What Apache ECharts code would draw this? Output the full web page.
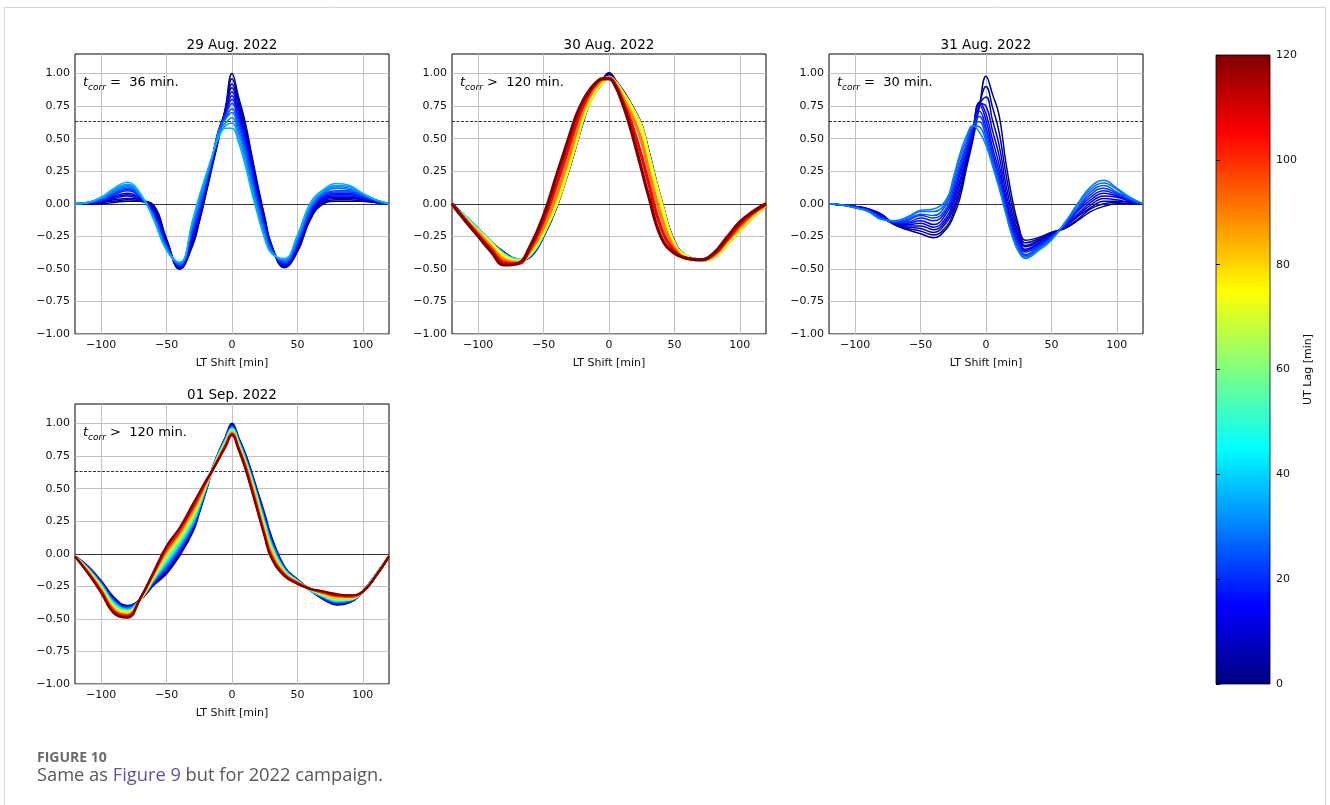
<!DOCTYPE html>
<html>
<head>
<meta charset="utf-8">
<script src="https://cdn.jsdelivr.net/npm/echarts@6/dist/echarts.min.js"></script>
<style>
  html, body { margin: 0; padding: 0; background: #fff; }
  #chart { width: 1330px; height: 805px; }
</style>
</head>
<body>
<div id="chart"></div>
<script>
// LT shift sampling (min); finer steps around the correlation peak
const LT_SHIFT = [-120,-110,-100,-90,-80,-70,-60,-50,-40,-30,-25,-20,-15,-10,-5,0,5,10,15,20,25,30,40,50,60,70,80,90,100,110,120];
const LT_TICKS = [-100, -50, 0, 50, 100];
const CORR_TICKS = [-1, -0.75, -0.5, -0.25, 0, 0.25, 0.5, 0.75, 1];
const LAG_TICKS = [0, 20, 40, 60, 80, 100, 120];
const LAG_MAX = 120;
const CORR_THRESHOLD = 0.632;

const PANEL_TITLES = ['29 Aug. 2022', '30 Aug. 2022', '31 Aug. 2022', '01 Sep. 2022'];
const TCORR_TEXT = [' =  36 min.', ' >  120 min.', ' =  30 min.', ' >  120 min.'];

// Each table: one row per LT_SHIFT value, one column per UT lag
const LAGS_AUG29 = [0,3,6,9,12,15,18,21,24,27,30,33,36];
const CORR_AUG29 = [
  [0,0,0,0,0,0,0,0,0,0,0,0,0],
  [0,0,0,0,0,0.01,0.01,0.01,0.01,0.01,0.01,0.01,0.01],
  [0,0.01,0.01,0.01,0.02,0.02,0.02,0.03,0.03,0.04,0.04,0.05,0.05],
  [0.01,0.02,0.03,0.04,0.05,0.06,0.07,0.08,0.08,0.09,0.10,0.11,0.12],
  [0.02,0.03,0.04,0.06,0.07,0.08,0.10,0.11,0.12,0.13,0.14,0.15,0.165],
  [0.02,0.02,0.03,0.03,0.04,0.04,0.05,0.05,0.06,0.06,0.07,0.07,0.08],
  [-0.01,-0.02,-0.03,-0.04,-0.05,-0.06,-0.07,-0.08,-0.09,-0.10,-0.10,-0.11,-0.12],
  [-0.27,-0.28,-0.28,-0.29,-0.30,-0.31,-0.32,-0.32,-0.33,-0.34,-0.35,-0.35,-0.36],
  [-0.50,-0.50,-0.50,-0.49,-0.49,-0.48,-0.48,-0.47,-0.47,-0.46,-0.46,-0.45,-0.45],
  [-0.32,-0.30,-0.29,-0.27,-0.25,-0.24,-0.22,-0.20,-0.19,-0.17,-0.15,-0.14,-0.12],
  [-0.14,-0.13,-0.11,-0.10,-0.08,-0.07,-0.05,-0.04,-0.02,-0.01,0.02,0.04,0.06],
  [0.07,0.08,0.09,0.10,0.12,0.13,0.14,0.15,0.16,0.17,0.19,0.20,0.22],
  [0.29,0.30,0.31,0.32,0.33,0.34,0.35,0.35,0.36,0.36,0.37,0.37,0.37],
  [0.50,0.52,0.53,0.55,0.56,0.57,0.57,0.57,0.57,0.56,0.55,0.53,0.51],
  [0.74,0.73,0.72,0.72,0.71,0.70,0.69,0.68,0.66,0.65,0.62,0.60,0.58],
  [1.00,0.96,0.92,0.89,0.86,0.83,0.80,0.77,0.73,0.70,0.66,0.62,0.58],
  [0.82,0.79,0.77,0.74,0.72,0.69,0.66,0.63,0.60,0.57,0.54,0.50,0.47],
  [0.63,0.61,0.58,0.56,0.53,0.51,0.48,0.45,0.43,0.40,0.37,0.34,0.30],
  [0.38,0.36,0.34,0.32,0.30,0.28,0.25,0.23,0.20,0.18,0.15,0.12,0.09],
  [0.13,0.11,0.10,0.08,0.06,0.04,0.03,0.01,-0.01,-0.03,-0.05,-0.07,-0.10],
  [-0.10,-0.11,-0.12,-0.13,-0.15,-0.16,-0.17,-0.19,-0.20,-0.22,-0.23,-0.25,-0.27],
  [-0.31,-0.31,-0.32,-0.32,-0.33,-0.33,-0.34,-0.35,-0.35,-0.36,-0.37,-0.37,-0.38],
  [-0.49,-0.49,-0.48,-0.48,-0.47,-0.47,-0.46,-0.45,-0.45,-0.44,-0.43,-0.43,-0.42],
  [-0.37,-0.36,-0.35,-0.34,-0.33,-0.32,-0.31,-0.30,-0.29,-0.28,-0.27,-0.25,-0.24],
  [-0.12,-0.11,-0.10,-0.09,-0.08,-0.07,-0.06,-0.05,-0.04,-0.03,-0.02,-0.01,0.01],
  [0.00,0.01,0.02,0.03,0.04,0.05,0.06,0.07,0.07,0.08,0.09,0.10,0.11],
  [0.02,0.03,0.04,0.05,0.06,0.07,0.08,0.09,0.10,0.12,0.13,0.14,0.155],
  [0.02,0.03,0.04,0.05,0.06,0.07,0.08,0.09,0.10,0.11,0.12,0.13,0.14],
  [0.02,0.02,0.03,0.03,0.04,0.05,0.05,0.06,0.06,0.07,0.07,0.08,0.08],
  [0.01,0.01,0.01,0.01,0.02,0.02,0.02,0.02,0.03,0.03,0.03,0.03,0.03],
  [0,0,0,0,0,0,0,0,0,0,0,0,0]
];

const LAGS_AUG30 = [0,15,30,45,60,75,90,105,120];
const CORR_AUG30 = [
  [-0.01,-0.01,-0.01,-0.01,-0.01,-0.01,-0.01,0.00,0.00],
  [-0.10,-0.10,-0.10,-0.10,-0.11,-0.11,-0.12,-0.12,-0.13],
  [-0.20,-0.20,-0.20,-0.20,-0.21,-0.21,-0.22,-0.24,-0.25],
  [-0.30,-0.30,-0.30,-0.30,-0.30,-0.31,-0.33,-0.35,-0.37],
  [-0.38,-0.38,-0.39,-0.39,-0.40,-0.40,-0.43,-0.45,-0.47],
  [-0.43,-0.43,-0.43,-0.43,-0.44,-0.44,-0.45,-0.46,-0.46],
  [-0.40,-0.40,-0.39,-0.39,-0.38,-0.38,-0.36,-0.34,-0.32],
  [-0.24,-0.24,-0.23,-0.23,-0.22,-0.22,-0.18,-0.13,-0.09],
  [-0.01,-0.01,0.00,0.00,0.00,0.00,0.07,0.15,0.22],
  [0.30,0.30,0.30,0.31,0.31,0.31,0.38,0.46,0.53],
  [0.47,0.47,0.48,0.48,0.48,0.48,0.55,0.62,0.68],
  [0.64,0.64,0.65,0.65,0.65,0.66,0.71,0.75,0.79],
  [0.78,0.78,0.78,0.78,0.78,0.78,0.82,0.85,0.87],
  [0.87,0.87,0.87,0.87,0.87,0.87,0.90,0.92,0.93],
  [0.94,0.93,0.93,0.93,0.93,0.93,0.95,0.96,0.96],
  [1.00,0.98,0.97,0.97,0.97,0.97,0.97,0.96,0.96],
  [0.94,0.93,0.93,0.93,0.93,0.93,0.92,0.91,0.90],
  [0.87,0.87,0.86,0.86,0.86,0.86,0.83,0.80,0.78],
  [0.79,0.79,0.78,0.78,0.78,0.78,0.73,0.68,0.63],
  [0.70,0.70,0.69,0.69,0.69,0.69,0.62,0.53,0.45],
  [0.59,0.59,0.58,0.58,0.58,0.58,0.48,0.36,0.26],
  [0.40,0.39,0.39,0.38,0.38,0.38,0.27,0.17,0.07],
  [0.01,0.01,0.00,0.00,0.00,0.00,-0.10,-0.19,-0.26],
  [-0.30,-0.30,-0.30,-0.31,-0.31,-0.31,-0.34,-0.36,-0.38],
  [-0.41,-0.41,-0.41,-0.41,-0.41,-0.41,-0.42,-0.42,-0.42],
  [-0.43,-0.43,-0.43,-0.43,-0.43,-0.43,-0.43,-0.43,-0.43],
  [-0.41,-0.41,-0.41,-0.41,-0.41,-0.41,-0.40,-0.39,-0.38],
  [-0.31,-0.31,-0.31,-0.31,-0.31,-0.31,-0.29,-0.28,-0.26],
  [-0.20,-0.20,-0.20,-0.20,-0.20,-0.20,-0.18,-0.16,-0.14],
  [-0.10,-0.10,-0.10,-0.10,-0.10,-0.10,-0.08,-0.07,-0.06],
  [-0.01,-0.01,-0.01,-0.01,-0.01,-0.01,-0.01,0.00,0.00]
];

const LAGS_AUG31 = [0,3,6,9,12,15,18,21,24,27,30];
const CORR_AUG31 = [
  [0,0,0,0,0,0,0,0,0,0,0],
  [-0.01,-0.01,-0.01,-0.01,-0.01,-0.01,-0.01,-0.01,-0.01,-0.01,-0.01],
  [-0.02,-0.02,-0.02,-0.02,-0.02,-0.02,-0.02,-0.03,-0.03,-0.03,-0.03],
  [-0.04,-0.04,-0.04,-0.04,-0.05,-0.05,-0.05,-0.05,-0.05,-0.06,-0.06],
  [-0.08,-0.08,-0.09,-0.09,-0.09,-0.10,-0.10,-0.11,-0.11,-0.12,-0.12],
  [-0.16,-0.16,-0.16,-0.15,-0.15,-0.15,-0.14,-0.14,-0.14,-0.13,-0.13],
  [-0.20,-0.19,-0.18,-0.17,-0.16,-0.15,-0.14,-0.13,-0.12,-0.11,-0.10],
  [-0.23,-0.21,-0.19,-0.17,-0.15,-0.13,-0.11,-0.09,-0.08,-0.06,-0.05],
  [-0.26,-0.24,-0.22,-0.20,-0.18,-0.16,-0.13,-0.11,-0.09,-0.06,-0.04],
  [-0.19,-0.17,-0.14,-0.12,-0.10,-0.07,-0.05,-0.03,0.00,0.02,0.04],
  [-0.10,-0.07,-0.04,-0.01,0.02,0.05,0.08,0.11,0.14,0.17,0.20],
  [0.04,0.08,0.11,0.15,0.18,0.22,0.25,0.28,0.31,0.35,0.38],
  [0.27,0.29,0.31,0.34,0.36,0.39,0.41,0.44,0.46,0.49,0.52],
  [0.49,0.51,0.53,0.55,0.57,0.58,0.59,0.60,0.60,0.60,0.60],
  [0.75,0.76,0.76,0.77,0.78,0.76,0.71,0.67,0.63,0.59,0.55],
  [0.98,0.90,0.82,0.75,0.69,0.64,0.59,0.55,0.51,0.48,0.45],
  [0.84,0.74,0.64,0.56,0.49,0.43,0.39,0.36,0.33,0.31,0.29],
  [0.68,0.55,0.45,0.37,0.30,0.25,0.21,0.18,0.16,0.14,0.12],
  [0.33,0.24,0.16,0.10,0.05,0.02,-0.01,-0.03,-0.04,-0.06,-0.07],
  [0.04,-0.02,-0.07,-0.11,-0.14,-0.17,-0.19,-0.21,-0.23,-0.24,-0.25],
  [-0.17,-0.20,-0.23,-0.25,-0.27,-0.29,-0.31,-0.33,-0.34,-0.36,-0.37],
  [-0.28,-0.30,-0.32,-0.33,-0.35,-0.36,-0.37,-0.39,-0.40,-0.41,-0.42],
  [-0.26,-0.27,-0.28,-0.29,-0.30,-0.31,-0.32,-0.33,-0.34,-0.35,-0.36],
  [-0.22,-0.22,-0.23,-0.23,-0.24,-0.25,-0.25,-0.26,-0.26,-0.27,-0.28],
  [-0.19,-0.19,-0.18,-0.18,-0.17,-0.17,-0.17,-0.16,-0.16,-0.15,-0.15],
  [-0.13,-0.12,-0.10,-0.09,-0.08,-0.06,-0.05,-0.04,-0.03,-0.01,0.00],
  [-0.06,-0.04,-0.03,-0.01,0.01,0.03,0.05,0.07,0.09,0.11,0.13],
  [-0.02,0.00,0.02,0.04,0.06,0.08,0.10,0.12,0.14,0.16,0.18],
  [0.00,0.01,0.02,0.03,0.05,0.06,0.07,0.08,0.09,0.11,0.12],
  [0.00,0.00,0.01,0.01,0.02,0.02,0.03,0.03,0.04,0.04,0.05],
  [0,0,0,0,0,0,0,0,0,0,0]
];

const LAGS_SEP01 = [0,10,20,30,40,50,60,70,80,90,100,110,120];
const CORR_SEP01 = [
  [-0.02,-0.02,-0.02,-0.02,-0.02,-0.02,-0.02,-0.02,-0.02,-0.02,-0.02,-0.02,-0.02],
  [-0.10,-0.10,-0.11,-0.11,-0.12,-0.12,-0.12,-0.13,-0.13,-0.14,-0.14,-0.15,-0.15],
  [-0.21,-0.22,-0.23,-0.23,-0.24,-0.25,-0.25,-0.26,-0.27,-0.28,-0.28,-0.29,-0.30],
  [-0.34,-0.35,-0.36,-0.37,-0.38,-0.39,-0.40,-0.41,-0.42,-0.43,-0.44,-0.45,-0.46],
  [-0.40,-0.41,-0.41,-0.42,-0.43,-0.44,-0.44,-0.45,-0.46,-0.47,-0.47,-0.48,-0.49],
  [-0.35,-0.35,-0.35,-0.35,-0.35,-0.35,-0.35,-0.35,-0.35,-0.34,-0.34,-0.34,-0.34],
  [-0.24,-0.23,-0.22,-0.21,-0.20,-0.19,-0.19,-0.18,-0.17,-0.16,-0.15,-0.15,-0.14],
  [-0.15,-0.13,-0.11,-0.09,-0.07,-0.05,-0.03,-0.01,0.00,0.02,0.03,0.05,0.06],
  [-0.01,0.01,0.03,0.05,0.07,0.09,0.11,0.12,0.14,0.16,0.17,0.19,0.20],
  [0.17,0.19,0.21,0.22,0.24,0.26,0.28,0.29,0.31,0.33,0.35,0.36,0.38],
  [0.32,0.33,0.34,0.35,0.36,0.38,0.39,0.40,0.41,0.43,0.44,0.46,0.47],
  [0.48,0.49,0.49,0.50,0.51,0.51,0.52,0.53,0.53,0.54,0.55,0.55,0.56],
  [0.65,0.65,0.65,0.65,0.65,0.64,0.64,0.64,0.64,0.64,0.64,0.64,0.64],
  [0.78,0.78,0.77,0.77,0.77,0.76,0.76,0.75,0.75,0.74,0.74,0.73,0.73],
  [0.89,0.89,0.88,0.88,0.87,0.86,0.86,0.85,0.84,0.84,0.83,0.83,0.82],
  [1.00,0.99,0.98,0.97,0.96,0.96,0.95,0.94,0.94,0.93,0.92,0.92,0.91],
  [0.89,0.88,0.88,0.87,0.86,0.85,0.84,0.84,0.83,0.82,0.81,0.81,0.80],
  [0.77,0.76,0.75,0.74,0.73,0.72,0.71,0.70,0.70,0.69,0.68,0.67,0.66],
  [0.62,0.61,0.60,0.59,0.58,0.57,0.56,0.55,0.54,0.53,0.51,0.50,0.49],
  [0.46,0.45,0.44,0.42,0.41,0.40,0.39,0.37,0.36,0.35,0.33,0.32,0.31],
  [0.30,0.28,0.27,0.25,0.24,0.22,0.21,0.19,0.18,0.16,0.15,0.14,0.13],
  [0.13,0.12,0.10,0.09,0.07,0.06,0.05,0.03,0.02,0.01,-0.01,-0.02,-0.03],
  [-0.10,-0.11,-0.11,-0.12,-0.12,-0.13,-0.14,-0.14,-0.15,-0.15,-0.16,-0.16,-0.17],
  [-0.20,-0.20,-0.20,-0.21,-0.21,-0.21,-0.21,-0.22,-0.22,-0.22,-0.22,-0.23,-0.23],
  [-0.28,-0.28,-0.28,-0.28,-0.28,-0.28,-0.27,-0.27,-0.27,-0.27,-0.27,-0.27,-0.27],
  [-0.35,-0.34,-0.34,-0.33,-0.33,-0.32,-0.32,-0.31,-0.31,-0.30,-0.30,-0.29,-0.29],
  [-0.39,-0.38,-0.38,-0.37,-0.36,-0.36,-0.35,-0.34,-0.34,-0.33,-0.32,-0.32,-0.31],
  [-0.37,-0.37,-0.36,-0.36,-0.35,-0.35,-0.35,-0.34,-0.34,-0.33,-0.33,-0.32,-0.32],
  [-0.29,-0.29,-0.29,-0.29,-0.29,-0.29,-0.29,-0.29,-0.29,-0.29,-0.29,-0.29,-0.29],
  [-0.16,-0.16,-0.16,-0.16,-0.16,-0.16,-0.17,-0.17,-0.17,-0.17,-0.17,-0.17,-0.17],
  [-0.02,-0.02,-0.02,-0.02,-0.02,-0.02,-0.02,-0.02,-0.02,-0.02,-0.02,-0.02,-0.02]
];

// ---- layout ----
const FONT = 'DejaVu Sans';
const PLOT_W = 314, PLOT_H = 280;
const PLOT_POS = [
  { left: 75,  top: 54 },
  { left: 452, top: 54 },
  { left: 829, top: 54 },
  { left: 75,  top: 404 }
];
const CBAR = { left: 1216, top: 55, width: 54, height: 629 };

// wider strokes where the lag sampling is coarser, so the bundle reads as a band
const PANELS = [
  { lags: LAGS_AUG29, rows: CORR_AUG29, stroke: 1.5 },
  { lags: LAGS_AUG30, rows: CORR_AUG30, stroke: 3.2 },
  { lags: LAGS_AUG31, rows: CORR_AUG31, stroke: 1.5 },
  { lags: LAGS_SEP01, rows: CORR_SEP01, stroke: 2.2 }
];

// jet colormap
function jet(t) {
  const c = v => Math.round(255 * Math.max(0, Math.min(1, v)));
  return 'rgb(' + c(1.5 - Math.abs(4 * t - 3)) + ',' + c(1.5 - Math.abs(4 * t - 2)) + ',' + c(1.5 - Math.abs(4 * t - 1)) + ')';
}
const minus = v => (v < 0 ? '\u2212' : '') + Math.abs(v);

const grids = [], xAxes = [], yAxes = [], series = [], titles = [], graphics = [];

PLOT_POS.forEach((pos, i) => {
  grids.push({ left: pos.left, top: pos.top, width: PLOT_W, height: PLOT_H,
    show: true, borderColor: '#000', borderWidth: 1, backgroundColor: 'transparent' });
  xAxes.push({
    type: 'value', gridIndex: i, min: -120, max: 120,
    axisLine: { show: false },
    axisTick: { show: true, length: 4, customValues: LT_TICKS, lineStyle: { color: '#000', width: 1 } },
    axisLabel: { customValues: LT_TICKS, formatter: v => minus(v), color: '#111',
      fontSize: 11, fontFamily: FONT, margin: 6 },
    splitLine: { show: false },
    name: 'LT Shift [min]', nameLocation: 'middle', nameGap: 24,
    nameTextStyle: { fontSize: 11, fontFamily: FONT, color: '#111' }
  });
  yAxes.push({
    type: 'value', gridIndex: i, min: -1, max: 1.15,
    axisLine: { show: false },
    axisTick: { show: true, length: 4, customValues: CORR_TICKS, lineStyle: { color: '#000', width: 1 } },
    axisLabel: { customValues: CORR_TICKS,
      formatter: v => (v < 0 ? '\u2212' : '') + Math.abs(v).toFixed(2),
      color: '#111', fontSize: 11, fontFamily: FONT, margin: 5 },
    splitLine: { show: false }
  });

  const gl = { color: '#c2c2c2', width: 1, type: 'solid' };
  series.push({
    type: 'line', xAxisIndex: i, yAxisIndex: i, data: [], silent: true, z: 1,
    markLine: {
      silent: true, z: 1, symbol: ['none', 'none'], label: { show: false },
      animation: false, emphasis: { disabled: true },
      data: [
        ...LT_TICKS.map(v => ({ xAxis: v, lineStyle: gl })),
        ...CORR_TICKS.map(v => ({ yAxis: v, lineStyle: gl })),
        { yAxis: 0, lineStyle: { color: '#333', width: 1, type: 'solid' } },
        { yAxis: CORR_THRESHOLD, lineStyle: { color: '#000', width: 0.8, type: [3, 1.5] } }
      ]
    }
  });

  const p = PANELS[i];
  p.lags.forEach((lag, k) => {
    series.push({
      type: 'line', xAxisIndex: i, yAxisIndex: i, z: 3,
      data: LT_SHIFT.map((x, j) => [x, p.rows[j][k]]),
      showSymbol: false, symbol: 'none', smooth: 0.45, silent: true,
      emphasis: { disabled: true }, animation: false,
      lineStyle: { color: jet(lag / LAG_MAX), width: p.stroke }
    });
  });

  titles.push({
    text: PANEL_TITLES[i], left: pos.left + PLOT_W / 2, top: pos.top - 16,
    textAlign: 'center', padding: 0,
    textStyle: { fontSize: 13.5, fontWeight: 'normal', fontFamily: FONT, color: '#000' }
  });

  graphics.push({
    type: 'text', x: pos.left + 8, y: pos.top + 29, z: 10,
    style: {
      text: '{t|t}{s|corr}{n|' + TCORR_TEXT[i] + '}',
      verticalAlign: 'middle',
      rich: {
        t: { fontSize: 13, fontStyle: 'italic', fontFamily: FONT, fill: '#000', lineHeight: 18 },
        s: { fontSize: 9, fontStyle: 'italic', fontFamily: FONT, fill: '#000', lineHeight: 9, verticalAlign: 'bottom' },
        n: { fontSize: 13, fontFamily: FONT, fill: '#000', lineHeight: 18 }
      }
    }
  });
});

// colour bar
const stops = [];
for (let s = 0; s <= 48; s++) stops.push({ offset: s / 48, color: jet(s / 48) });
grids.push({ left: CBAR.left, top: CBAR.top, width: CBAR.width, height: CBAR.height,
  show: true, borderColor: '#000', borderWidth: 0.8,
  backgroundColor: { type: 'linear', x: 0, y: 1, x2: 0, y2: 0, colorStops: stops } });
xAxes.push({ type: 'value', gridIndex: 4, min: 0, max: 1, show: false });
yAxes.push({
  type: 'value', gridIndex: 4, min: 0, max: LAG_MAX, interval: 20, position: 'right',
  axisLine: { show: false },
  axisTick: { show: true, length: 4, lineStyle: { color: '#000' } },
  axisLabel: { color: '#111', fontSize: 11, fontFamily: FONT, margin: 6 },
  splitLine: { show: false },
  name: 'UT Lag [min]', nameLocation: 'middle', nameRotate: 90, nameGap: 33,
  nameTextStyle: { fontSize: 11, fontFamily: FONT, color: '#111' }
});

// frame and caption
graphics.push({ type: 'rect', shape: { x: 4.5, y: 7.5, width: 1321, height: 900 },
  style: { fill: 'none', stroke: '#d4d4d4', lineWidth: 1 }, z: -10, silent: true });
graphics.push({ type: 'text', x: 37, y: 758, style: { text: 'FIGURE 10',
  fontSize: 14, fontWeight: 'bold', fontFamily: 'Open Sans', fill: '#6b6b6b', verticalAlign: 'middle' } });
graphics.push({ type: 'text', x: 37, y: 776, style: {
  text: '{a|Same as }{b|Figure 9}{a| but for 2022 campaign.}', verticalAlign: 'middle',
  rich: {
    a: { fontSize: 18.3, fontFamily: 'Open Sans', fill: '#585858' },
    b: { fontSize: 18.3, fontFamily: 'Open Sans', fill: '#5d52ad' }
  } } });

const chart = echarts.init(document.getElementById('chart'), null, { renderer: 'canvas' });
chart.setOption({
  backgroundColor: '#fff',
  animation: false,
  title: titles,
  grid: grids,
  xAxis: xAxes,
  yAxis: yAxes,
  series: series,
  graphic: graphics
});
</script>
</body>
</html>
